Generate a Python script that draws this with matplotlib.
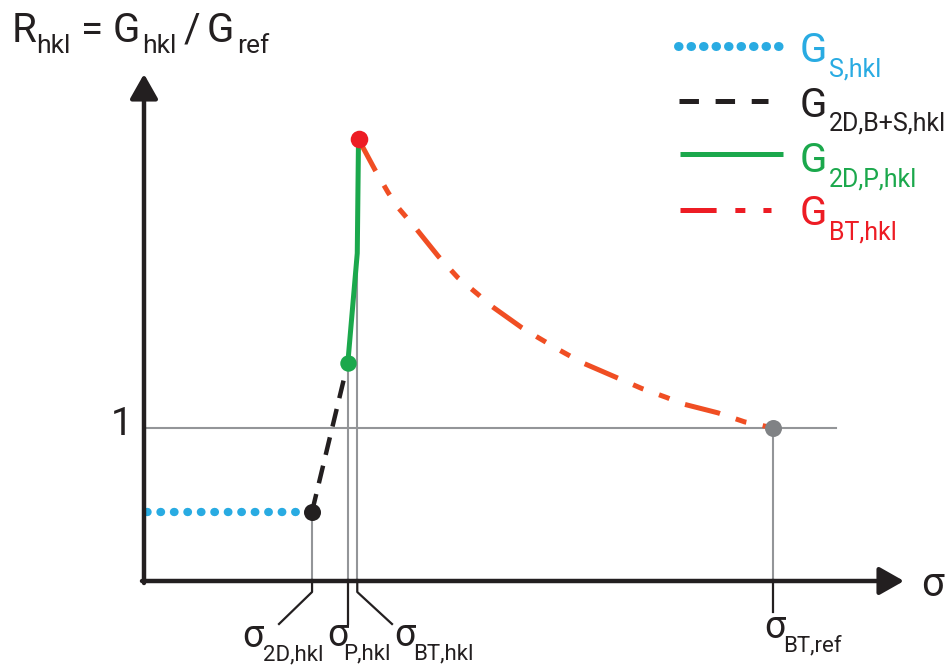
import matplotlib
matplotlib.use("Agg")
import matplotlib.pyplot as plt

plt.rcParams['font.family'] = ['Roboto', 'DejaVu Sans']
plt.rcParams['lines.scale_dashes'] = False

# ---------------- data (schematic units) ----------------
sigma_2d = 2.66
sigma_p = 3.23
sigma_bt = 3.40
sigma_ref = 10.0
R_s = 0.45
R_p = 1.43
R_peak = 2.90
R_ref = 1.0

blue_s = [0.03, sigma_2d]
blue_R = [R_s, R_s]
black_s = [sigma_2d, sigma_p]
black_R = [R_s, R_p]
green_s = [sigma_p, 3.38, sigma_bt]
green_R = [R_p, 2.15, R_peak]
red_s = [3.40, 3.66, 3.87, 4.03, 4.30, 4.67, 4.98, 5.30, 5.49, 6.00, 6.24,
         6.61, 6.96, 7.52, 7.91, 8.31, 8.55, 9.12, 9.55, 9.79, 10.0]
red_R = [2.90, 2.70, 2.55, 2.45, 2.32, 2.13, 1.99, 1.88, 1.81, 1.66, 1.60,
         1.51, 1.43, 1.33, 1.26, 1.20, 1.16, 1.10, 1.04, 1.02, 1.00]
ref_line_end = 11.0

tick_main = ['σ', 'σ', 'σ', 'σ']
tick_subs = ['2D,hkl', 'P,hkl', 'BT,hkl', 'BT,ref']
legend_main = ['G', 'G', 'G', 'G']
legend_subs = ['S,hkl', '2D,B+S,hkl', '2D,P,hkl', 'BT,hkl']
ylabel_pieces = ['R', 'hkl', '=', 'G', 'hkl', '/', 'G', 'ref']

# ---------------- colours ----------------
C_BLUE = '#29ABE2'
C_BLACK = '#231F20'
C_GREEN = '#1BA84C'
C_RED = '#ED1C24'
C_ORANGE = '#F04E23'
C_GRAY = '#939598'
C_GRAYDOT = '#808285'

W, H = 951, 669
fig = plt.figure(figsize=(W / 100, H / 100), dpi=100)
ax = fig.add_axes([0, 0, 1, 1])
PX = 62.8   # px per sigma unit
PY = 152.0  # px per R unit
X0, Y0 = 145, 580
ax.set_xlim(-X0 / PX, (W - X0) / PX)
ax.set_ylim((Y0 - H) / PY, Y0 / PY)
ax.axis('off')

def d(px, py):
    return ((px - X0) / PX, (Y0 - py) / PY)

def ftxt(px, py, s, size, color, ha='left'):
    return fig.text(px / W, 1 - py / H, s, fontsize=size, color=color,
                    ha=ha, va='baseline')

# gray reference lines
lw_g = 1.5
ax.plot([0, ref_line_end], [R_ref, R_ref], color=C_GRAY, lw=lw_g, zorder=1)
ax.plot([sigma_2d, sigma_2d], [0, R_s], color=C_GRAY, lw=lw_g, zorder=1)
ax.plot([sigma_p, sigma_p], [0, R_p], color=C_GRAY, lw=lw_g, zorder=1)
ax.plot([sigma_bt - 0.02, sigma_bt - 0.02], [0, R_peak], color=C_GRAY, lw=lw_g, zorder=1)
ax.plot([sigma_ref, sigma_ref], [0, R_ref], color=C_GRAY, lw=lw_g, zorder=1)

# curves
ax.plot(blue_s, blue_R, color=C_BLUE, lw=6.0, linestyle=(0, (0.4, 9.3)),
        dash_capstyle='round', zorder=3)
ax.plot(black_s, black_R, color=C_BLACK, lw=3.2, linestyle=(0, (13, 8)),
        dash_capstyle='butt', zorder=3)
ax.plot(green_s, green_R, color=C_GREEN, lw=3.6, solid_capstyle='round', zorder=4)
ax.plot(red_s, red_R, color=C_ORANGE, lw=3.6,
        linestyle=(0, (26, 12, 8, 12, 8, 12)), dash_capstyle='butt', zorder=4)

# markers
ax.scatter([sigma_2d], [R_s], s=150, color=C_BLACK, zorder=6, linewidths=0)
ax.scatter([sigma_p], [R_p], s=140, color=C_GREEN, zorder=6, linewidths=0)
ax.scatter([sigma_bt], [R_peak], s=160, color=C_RED, zorder=6, linewidths=0)
ax.scatter([sigma_ref], [R_ref], s=150, color=C_GRAYDOT, zorder=6, linewidths=0)

# axes with arrows
arrow_kw = dict(arrowstyle='-|>,head_length=15,head_width=8.5', color=C_BLACK,
                lw=3.2, shrinkA=0, shrinkB=0, mutation_scale=1)
ax.annotate('', xy=d(144, 74), xytext=d(144, 583), arrowprops=arrow_kw, zorder=5)
ax.annotate('', xy=d(904, 581), xytext=d(142, 581), arrowprops=arrow_kw, zorder=5)

# leader lines for tick labels
lw_l = 1.6
ax.plot([sigma_2d, sigma_2d, d(279, 624)[0]], [0, d(0, 592)[1], d(0, 624)[1]],
        color=C_BLACK, lw=lw_l, zorder=2)
ax.plot([sigma_p, sigma_p], [0, d(0, 624)[1]], color=C_BLACK, lw=lw_l, zorder=2)
ax.plot([sigma_bt - 0.02, sigma_bt - 0.02, d(392, 624)[0]], [0, d(0, 592)[1], d(0, 624)[1]],
        color=C_BLACK, lw=lw_l, zorder=2)
ax.plot([sigma_ref, sigma_ref], [0, d(0, 612)[1]], color=C_BLACK, lw=lw_l, zorder=2)

# tick labels (main sigma + subscript)
FS_TM, FS_TS = 27, 16
tick_pos = [(242, 263, 647), (327, 343, 646), (394, 413, 646), (764, 783, 638)]
for (xm, xs, yb), m, s in zip(tick_pos, tick_main, tick_subs):
    ftxt(xm, yb, m, FS_TM, C_BLACK)
    ftxt(xs, yb + 13, s, FS_TS, C_BLACK)

ftxt(921, 596, 'σ', 29, C_BLACK)
ftxt(133, 435, '1', 28, C_BLACK, ha='right')

# y label: R_hkl = G_hkl / G_ref
title_x = [12, 36, 81, 113, 142, 184, 207, 237]
title_big = [True, False, True, True, False, True, True, False]
for x, s, big in zip(title_x, ylabel_pieces, title_big):
    if big:
        ftxt(x, 42, s, 29, C_BLACK)
    else:
        ftxt(x, 53, s, 19, C_BLACK)

# legend (manual)
leg_specs = [
    (C_BLUE, 6.5, (0, (0.4, 8.6)), 'round', 678, 781, 46, 62),
    (C_BLACK, 3.6, (0, (14, 12)), 'butt', 679, 768, 101, 117),
    (C_GREEN, 3.6, '-', 'butt', 680, 783, 154, 172),
    (C_RED, 3.6, (0, (26, 13.5, 7.2, 13, 7.2, 13)), 'butt', 680, 771, 210, 225),
]
for (c, lw, ls, cap, xa, xb, yl, yb), m, s in zip(leg_specs, legend_main, legend_subs):
    ln = plt.Line2D([xa / W, xb / W], [1 - yl / H, 1 - yl / H], transform=fig.transFigure,
                    color=c, lw=lw, linestyle=ls, dash_capstyle=cap, solid_capstyle=cap)
    fig.add_artist(ln)
    ftxt(800, yb, m, 29, c)
    ftxt(829, yb + 14, s, 18, c)

fig.savefig('out.png', dpi=100)
